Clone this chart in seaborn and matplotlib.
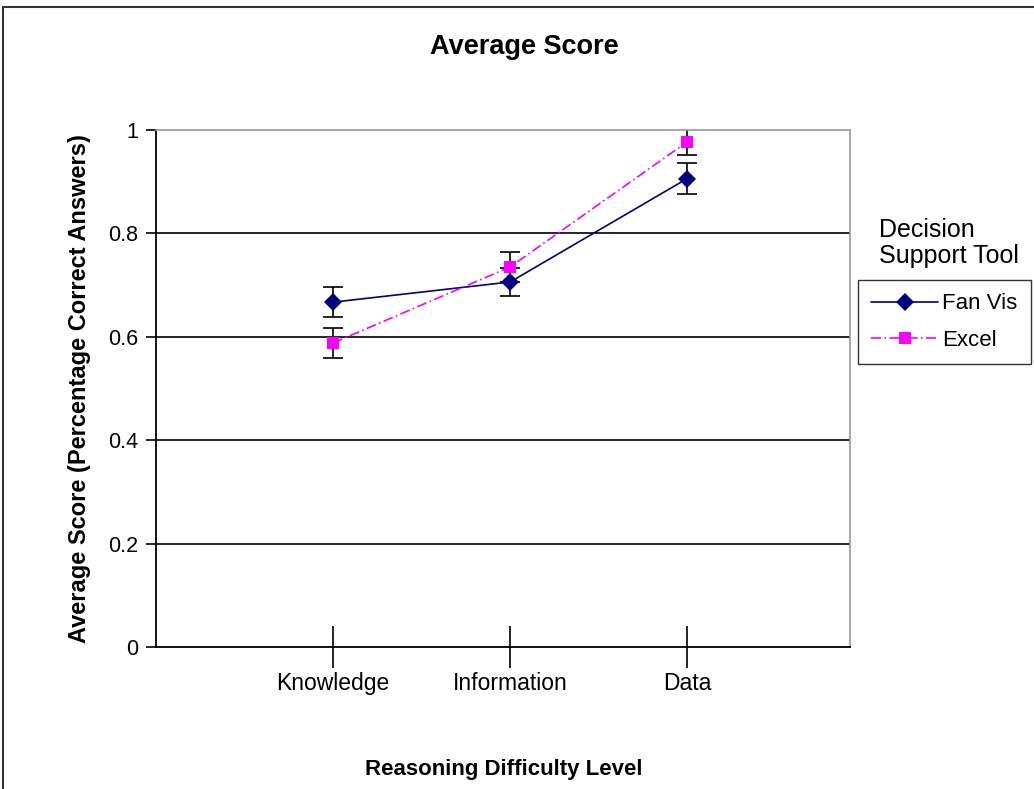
import numpy as np
import pandas as pd
import matplotlib
matplotlib.use("Agg")
import matplotlib.pyplot as plt
import seaborn as sns
from matplotlib.patches import Rectangle

# data
levels = ["Knowledge", "Information", "Data"]
fanvis_mean = [0.667, 0.706, 0.906]
fanvis_err = [0.029, 0.027, 0.030]
excel_mean = [0.588, 0.735, 0.977]
excel_err = [0.029, 0.029, 0.025]

df = pd.DataFrame({
    "level": list(range(3)) * 2,
    "score": fanvis_mean + excel_mean,
    "tool": ["Fan Vis"] * 3 + ["Excel"] * 3,
})

sns.set_style("white", {"xtick.bottom": True, "ytick.left": True,
                        "text.color": "black", "axes.labelcolor": "black",
                        "xtick.color": "black", "ytick.color": "black"})
plt.rcParams["font.family"] = ["Liberation Sans", "DejaVu Sans"]

fig = plt.figure(figsize=(10.34, 7.89), dpi=100)
ax = fig.add_axes([156 / 1034, 1 - 647 / 789, (850 - 156) / 1034, (647 - 130) / 789])

# outer chart frame
fig.patches.append(Rectangle((3 / 1034, -0.05), 1.1, 1 - 7 / 789 + 0.05,
                             transform=fig.transFigure, fill=False,
                             edgecolor="#333333", linewidth=1.5))

# gridlines
for g in [0.2, 0.4, 0.6, 0.8]:
    ax.axhline(g, color="black", linewidth=1.2, zorder=0)

colors = {"Fan Vis": "#000080", "Excel": "#FF00FF"}
sns.lineplot(data=df, x="level", y="score", hue="tool", style="tool",
             palette=colors, markers={"Fan Vis": "D", "Excel": "s"},
             dashes={"Fan Vis": "", "Excel": (6, 2, 1, 2)},
             markersize=9, markeredgewidth=0, linewidth=1.2, ax=ax, zorder=3)

ax.errorbar(range(3), fanvis_mean, yerr=fanvis_err, fmt="none", ecolor="black",
            elinewidth=1.2, capsize=7, capthick=1.2, zorder=2)
ax.errorbar(range(3), excel_mean, yerr=excel_err, fmt="none", ecolor="black",
            elinewidth=1.2, capsize=7, capthick=1.2, zorder=2)

ax.set_xlim(-1.0, 2.92)
ax.set_ylim(0, 1)
ax.set_xticks(range(3))
ax.set_xticklabels(levels, fontsize=16.5)
ax.set_yticks([0, 0.2, 0.4, 0.6, 0.8, 1])
ax.set_yticklabels(["0", "0.2", "0.4", "0.6", "0.8", "1"], fontsize=15.5)
ax.tick_params(axis="x", direction="inout", length=30, width=1.2, pad=3, color="black")
ax.tick_params(axis="y", direction="out", length=7, width=1.2, pad=6, color="black")

for side in ["left", "bottom"]:
    ax.spines[side].set_color("black")
    ax.spines[side].set_linewidth(1.3)
for side in ["top", "right"]:
    ax.spines[side].set_color("#999999")
    ax.spines[side].set_linewidth(1.2)

ax.set_xlabel("")
ax.set_ylabel("Average Score (Percentage Correct Answers)", fontsize=17,
              fontweight="bold", labelpad=12)
fig.text(504 / 1034, 1 - 769 / 789, "Reasoning Difficulty Level", fontsize=16,
         fontweight="bold", ha="center", va="center")
fig.text(524 / 1034, 1 - 47 / 789, "Average Score", fontsize=19.5,
         fontweight="bold", ha="center", va="center")

# legend with title placed above the box
fig.text(879 / 1034, 1 - 243 / 789, "Decision\nSupport Tool", fontsize=18,
         ha="left", va="center", linespacing=1.15)
handles, labels = ax.get_legend_handles_labels()
ax.legend(handles, labels, loc="upper left",
          bbox_to_anchor=(858 / 1034, 1 - 280 / 789), bbox_transform=fig.transFigure,
          fontsize=16, frameon=True, fancybox=False, edgecolor="black",
          handlelength=3.0, handletextpad=0.2, borderpad=0.6, borderaxespad=0,
          labelspacing=0.7)

fig.savefig("out.png", dpi=100)
